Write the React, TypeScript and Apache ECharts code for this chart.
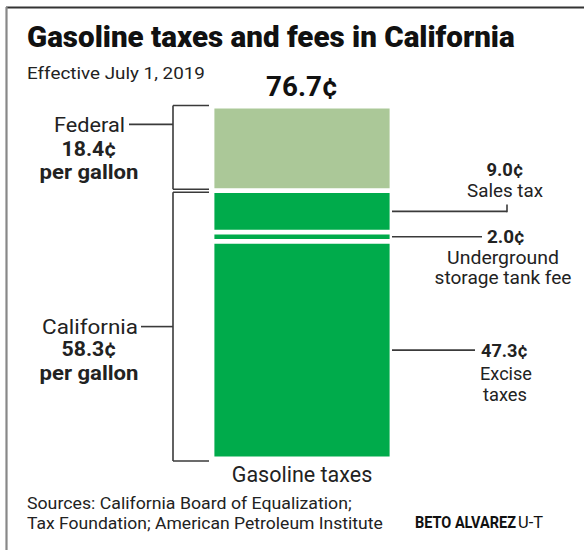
import React, { useEffect, useRef } from "react";
import * as echarts from "echarts";

const title = "Gasoline taxes and fees in California";
const subtitle = "Effective July 1, 2019";
const categories = ["Gasoline taxes"];
// stacked from bottom to top
const segmentNames = ["Excise taxes", "Underground storage tank fee", "Sales tax", "Federal"];
const segmentValues = [47.3, 2.0, 9.0, 18.4];
const segmentGroups = ["California", "California", "California", "Federal"];
const rightLabelLines = [["Excise", "taxes"], ["Underground", "storage tank fee"], ["Sales tax"], []];
const groupNames = ["Federal", "California"];
const perUnit = "per gallon";
const sourceLines = [
  "Sources: California Board of Equalization;",
  "Tax Foundation; American Petroleum Institute",
];
const creditName = "BETO ALVAREZ";
const creditOrg = "U-T";

const W = 584;
const H = 550;
const GRID = { left: 212, right: 192, top: 106, bottom: 91 };
const DARK = "#00ab4b";
const LIGHT = "#abc898";
const INK = "#222";
const LINE = "#3a3a3a";
const FONT = "Roboto, 'Noto Sans', sans-serif";

const cents = (v: number) => v.toFixed(1) + "\u00a2";

let measureCtx: CanvasRenderingContext2D | null = null;
function measure(s: string, size: number, weight: string | number) {
  try {
    if (!measureCtx) measureCtx = document.createElement("canvas").getContext("2d");
    if (!measureCtx) return 0;
    measureCtx.font = `${weight} ${size}px ${FONT}`;
    return measureCtx.measureText(s).width;
  } catch (e) {
    return 0;
  }
}

export default function App() {
  const ref = useRef<HTMLDivElement>(null);

  useEffect(() => {
    if (!ref.current) return;
    const chart = echarts.init(ref.current, undefined, { renderer: "svg" });
    const total = segmentValues.reduce((a, b) => a + b, 0);

    const series = segmentValues.map((v, i) => ({
      name: segmentNames[i],
      type: "bar",
      stack: "total",
      barWidth: "100%",
      data: [v],
      itemStyle: {
        color: segmentGroups[i] === "Federal" ? LIGHT : DARK,
        borderColor: "#ffffff",
        borderWidth: 2.4,
      },
      label: { show: false },
    }));

    chart.setOption({
      animation: false,
      backgroundColor: "#ffffff",
      grid: { ...GRID },
      xAxis: {
        type: "category",
        data: categories,
        axisLine: { show: false },
        axisTick: { show: false },
        axisLabel: { margin: 4, fontSize: 21.5, color: INK, fontFamily: FONT },
      },
      yAxis: {
        type: "value",
        min: 0,
        max: total,
        show: false,
        splitLine: { show: false },
      },
      series,
    });

    const py = (v: number) => (chart.convertToPixel({ gridIndex: 0 }, [0, v]) as number[])[1];
    const cum: number[] = [0];
    segmentValues.forEach((v) => cum.push(cum[cum.length - 1] + v));
    const barLeft = GRID.left;
    const barRight = W - GRID.right;
    const barCenter = (barLeft + barRight) / 2;

    const g: any[] = [];
    const line = (x1: number, y1: number, x2: number, y2: number, color = LINE, lw = 1.6) =>
      g.push({ type: "line", shape: { x1, y1, x2, y2 }, style: { stroke: color, lineWidth: lw }, silent: true });
    const text = (
      s: string,
      x: number,
      y: number,
      size: number,
      align: string,
      bold: boolean | number = false,
      target = 0,
      color = INK
    ) => {
      const weight = bold === true ? "bold" : bold === false ? "normal" : bold;
      let sx = 1;
      if (target > 0) {
        const w = measure(s, size, weight);
        if (w > 0) sx = target / w;
      }
      g.push({
        type: "text",
        x,
        y,
        scaleX: sx,
        style: {
          text: s,
          fontFamily: FONT,
          fontSize: size,
          fontWeight: weight,
          fill: color,
          textAlign: align,
          textVerticalAlign: "middle",
        },
        silent: true,
      });
    };

    // frame
    line(6, 7.5, W, 7.5, "#333", 2);
    line(6.5, 7, 6.5, H, "#888", 2.2);

    // title + subtitle
    text(title, 27, 36, 30, "left", 900, 488, "#111");
    text(subtitle, 27, 73, 17, "left", false, 178);

    // total above bar
    text(cents(total), barCenter, py(total) - 19, 27, "center", true, 72, "#111");

    // group brackets (left)
    const bx = 173;
    const bEnd = barLeft - 3;
    const fedTop = py(cum[4]) - 0.5;
    const fedBot = py(cum[3]) - 1.5;
    const calTop = py(cum[3]) + 1.5;
    const calBot = py(0) + 2;
    [
      [fedTop, fedBot],
      [calTop, calBot],
    ].forEach(([t, b]) => {
      line(bx, t, bEnd, t);
      line(bx, b, bEnd, b);
      line(bx, t, bx, b);
    });

    const fedSum = segmentValues.filter((_, i) => segmentGroups[i] === "Federal").reduce((a, b) => a + b, 0);
    const calSum = segmentValues.filter((_, i) => segmentGroups[i] === "California").reduce((a, b) => a + b, 0);

    // Federal label block
    const fedMid = (fedTop + fedBot) / 2;
    const fy = fedMid - 23;
    line(129, fy, bx, fy);
    text(groupNames[0], 125, fy, 21, "right", false, 71);
    text(cents(fedSum), 89, fy + 25, 20, "center", true, 55);
    text(perUnit, 89, fy + 48, 20, "center", true, 99);

    // California label block
    const calMid = (calTop + calBot) / 2;
    const cy = calMid;
    line(141, cy, bx, cy);
    text(groupNames[1], 138, cy, 21, "right", false, 96);
    text(cents(calSum), 89, cy + 23, 20, "center", true, 55);
    text(perUnit, 89, cy + 46, 20, "center", true, 99);

    // right annotations
    {
      // Sales tax (index 2)
      const y = (py(cum[2]) + py(cum[3])) / 2;
      line(barRight, y, 507, y);
      line(507, y + 0.8, 507, y - 7);
      text(cents(segmentValues[2]), 505, y - 42, 18, "center", true, 37);
      text(rightLabelLines[2][0], 505, y - 20, 18.5, "center", false, 76);
    }
    {
      // Underground (index 1)
      const y = (py(cum[1]) + py(cum[2])) / 2;
      line(barRight, y, 482, y);
      text(cents(segmentValues[1]), 487, y, 18, "left", true, 38);
      text(rightLabelLines[1][0], 503, y + 21, 18.5, "center", false, 112);
      text(rightLabelLines[1][1], 503, y + 41, 18.5, "center", false, 137);
    }
    {
      // Excise (index 0)
      const y = (py(cum[0]) + py(cum[1])) / 2;
      line(barRight, y, 475, y);
      text(cents(segmentValues[0]), 481, y, 18, "left", true, 47);
      text(rightLabelLines[0][0], 506, y + 23, 18.5, "center", false, 52);
      text(rightLabelLines[0][1], 505, y + 44, 18.5, "center", false, 44);
    }

    // sources / credit
    text(sourceLines[0], 27, 503, 16.5, "left", false, 325);
    text(sourceLines[1], 27, 523, 16.5, "left", false, 356);
    text(creditName, 415, 523, 16, "left", true, 101, "#111");
    text(creditOrg, 518, 523, 16, "left", false, 25, "#111");

    chart.setOption({ graphic: { elements: g } });

    return () => chart.dispose();
  }, []);

  return (
    <div
      ref={ref}
      style={{ position: "absolute", left: 0, top: 0, width: W, height: H, background: "#fff" }}
    />
  );
}
